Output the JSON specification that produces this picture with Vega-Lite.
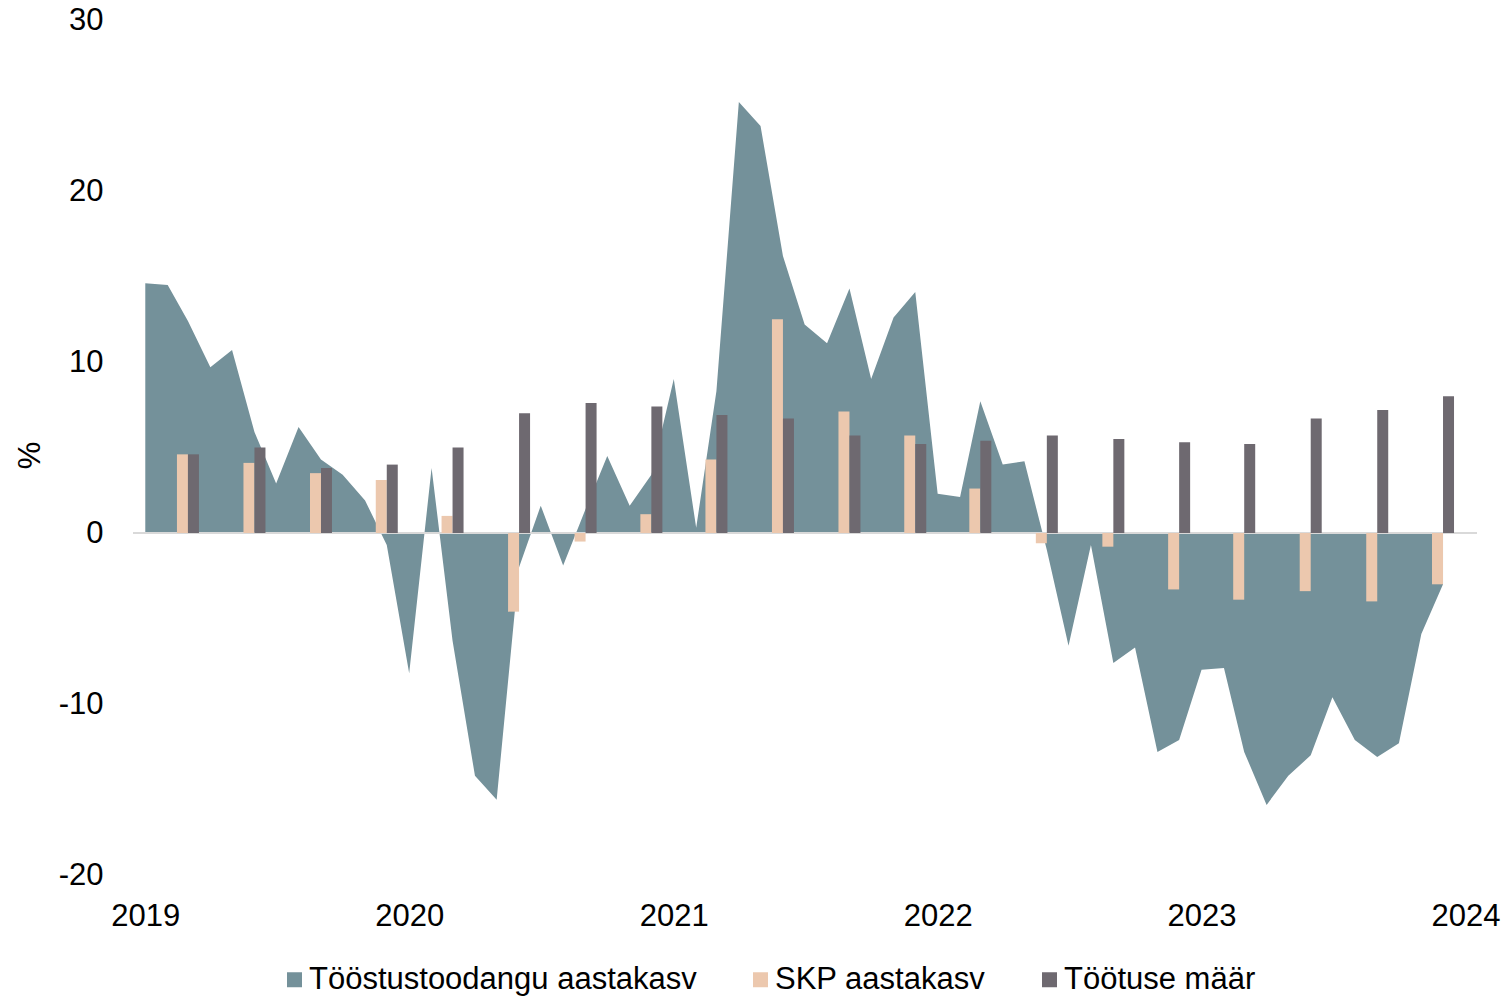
{
  "$schema": "https://vega.github.io/schema/vega-lite/v6.json",
  "autosize": {"type": "none"},
  "width": 1344,
  "height": 855,
  "padding": {"left": 133, "top": 20, "right": 27, "bottom": 122},
  "background": "white",
  "config": {
    "view": {"stroke": null},
    "font": "Liberation Sans",
    "axis": {"grid": false, "domain": false, "ticks": false, "labelFont": "Liberation Sans", "labelFontSize": 31, "labelColor": "#000000", "titleFont": "Liberation Sans", "titleFontSize": 31, "titleFontWeight": "normal", "titleColor": "#000000"}
  },
  "datasets": {
    "monthly": [
      {"date": "2019-01-01", "value": 14.6}, {"date": "2019-02-01", "value": 14.5}, {"date": "2019-03-01", "value": 12.4},
      {"date": "2019-04-01", "value": 9.7}, {"date": "2019-05-01", "value": 10.7}, {"date": "2019-06-01", "value": 5.9},
      {"date": "2019-07-01", "value": 2.9}, {"date": "2019-08-01", "value": 6.2}, {"date": "2019-09-01", "value": 4.3},
      {"date": "2019-10-01", "value": 3.4}, {"date": "2019-11-01", "value": 1.9}, {"date": "2019-12-01", "value": -0.7},
      {"date": "2020-01-01", "value": -8.2}, {"date": "2020-02-01", "value": 3.8}, {"date": "2020-03-01", "value": -6.3},
      {"date": "2020-04-01", "value": -14.2}, {"date": "2020-05-01", "value": -15.6}, {"date": "2020-06-01", "value": -2.0},
      {"date": "2020-07-01", "value": 1.6}, {"date": "2020-08-01", "value": -1.9}, {"date": "2020-09-01", "value": 1.4},
      {"date": "2020-10-01", "value": 4.5}, {"date": "2020-11-01", "value": 1.6}, {"date": "2020-12-01", "value": 3.4},
      {"date": "2021-01-01", "value": 9.0}, {"date": "2021-02-01", "value": 0.3}, {"date": "2021-03-01", "value": 8.3},
      {"date": "2021-04-01", "value": 25.2}, {"date": "2021-05-01", "value": 23.8}, {"date": "2021-06-01", "value": 16.2},
      {"date": "2021-07-01", "value": 12.2}, {"date": "2021-08-01", "value": 11.1}, {"date": "2021-09-01", "value": 14.3},
      {"date": "2021-10-01", "value": 9.0}, {"date": "2021-11-01", "value": 12.6}, {"date": "2021-12-01", "value": 14.1},
      {"date": "2022-01-01", "value": 2.3}, {"date": "2022-02-01", "value": 2.1}, {"date": "2022-03-01", "value": 7.7},
      {"date": "2022-04-01", "value": 4.0}, {"date": "2022-05-01", "value": 4.2}, {"date": "2022-06-01", "value": -1.0},
      {"date": "2022-07-01", "value": -6.6}, {"date": "2022-08-01", "value": -0.7}, {"date": "2022-09-01", "value": -7.6},
      {"date": "2022-10-01", "value": -6.7}, {"date": "2022-11-01", "value": -12.8}, {"date": "2022-12-01", "value": -12.1},
      {"date": "2023-01-01", "value": -8.0}, {"date": "2023-02-01", "value": -7.9}, {"date": "2023-03-01", "value": -12.8},
      {"date": "2023-04-01", "value": -15.9}, {"date": "2023-05-01", "value": -14.2}, {"date": "2023-06-01", "value": -13.0},
      {"date": "2023-07-01", "value": -9.6}, {"date": "2023-08-01", "value": -12.1}, {"date": "2023-09-01", "value": -13.1},
      {"date": "2023-10-01", "value": -12.3}, {"date": "2023-11-01", "value": -5.9}, {"date": "2023-12-01", "value": -3.0}
    ],
    "quarterly": [
      {"date": "2019-03-01", "gdp": 4.6, "unemp": 4.6}, {"date": "2019-06-01", "gdp": 4.1, "unemp": 5.0},
      {"date": "2019-09-01", "gdp": 3.5, "unemp": 3.8}, {"date": "2019-12-01", "gdp": 3.1, "unemp": 4.0},
      {"date": "2020-03-01", "gdp": 1.0, "unemp": 5.0}, {"date": "2020-06-01", "gdp": -4.6, "unemp": 7.0},
      {"date": "2020-09-01", "gdp": -0.5, "unemp": 7.6}, {"date": "2020-12-01", "gdp": 1.1, "unemp": 7.4},
      {"date": "2021-03-01", "gdp": 4.3, "unemp": 6.9}, {"date": "2021-06-01", "gdp": 12.5, "unemp": 6.7},
      {"date": "2021-09-01", "gdp": 7.1, "unemp": 5.7}, {"date": "2021-12-01", "gdp": 5.7, "unemp": 5.2},
      {"date": "2022-03-01", "gdp": 2.6, "unemp": 5.4}, {"date": "2022-06-01", "gdp": -0.6, "unemp": 5.7},
      {"date": "2022-09-01", "gdp": -0.8, "unemp": 5.5}, {"date": "2022-12-01", "gdp": -3.3, "unemp": 5.3},
      {"date": "2023-03-01", "gdp": -3.9, "unemp": 5.2}, {"date": "2023-06-01", "gdp": -3.4, "unemp": 6.7},
      {"date": "2023-09-01", "gdp": -4.0, "unemp": 7.2}, {"date": "2023-12-01", "gdp": -3.0, "unemp": 8.0}
    ]
  },
  "layer": [
    {
      "data": {"name": "monthly"},
      "mark": {"type": "area", "interpolate": "linear", "color": "#74919a"},
      "encoding": {
        "x": {
          "field": "date", "type": "temporal",
          "scale": {"type": "utc", "padding": 0, "domain": [{"year": 2018, "month": 12, "date": 15, "utc": true}, {"year": 2024, "month": 1, "date": 17, "utc": true}]},
          "axis": {
            "title": null, "format": "%Y", "labelPadding": 26, "labelFlush": false, "labelOverlap": false,
            "values": [{"year": 2019, "month": 1, "date": 1, "utc": true}, {"year": 2020, "month": 1, "date": 1, "utc": true}, {"year": 2021, "month": 1, "date": 1, "utc": true}, {"year": 2022, "month": 1, "date": 1, "utc": true}, {"year": 2023, "month": 1, "date": 1, "utc": true}, {"year": 2024, "month": 1, "date": 1, "utc": true}]
          }
        },
        "y": {
          "field": "value", "type": "quantitative", "stack": null,
          "scale": {"domain": [-20, 30], "nice": false, "zero": false},
          "axis": {"title": "%", "values": [-20, -10, 0, 10, 20, 30], "labelExpr": "datum.value + ''", "labelPadding": 30, "titleX": -103, "titleY": 435, "titleAlign": "center", "titleBaseline": "middle", "titleAngle": -90}
        },
        "color": {
          "datum": "Tööstustoodangu aastakasv",
          "scale": {"domain": ["Tööstustoodangu aastakasv", "SKP aastakasv", "Töötuse määr"], "range": ["#74919a", "#ecc8ae", "#6e6970"]},
          "legend": {
            "title": null, "orient": "none", "direction": "horizontal", "legendX": 146, "legendY": 944,
            "symbolType": "square", "symbolSize": 225, "symbolStrokeWidth": 0, "symbolOpacity": 1,
            "labelFont": "Liberation Sans", "labelFontSize": 31, "labelColor": "#000000", "labelLimit": 0,
            "labelOffset": -1, "columnPadding": 48
          }
        }
      }
    },
    {
      "data": {"values": [{}]},
      "mark": {"type": "rule", "color": "#d9d9d9", "strokeWidth": 2},
      "encoding": {"y": {"datum": 0, "type": "quantitative", "scale": {"domain": [-20, 30], "nice": false, "zero": false}}}
    },
    {
      "data": {"name": "quarterly"},
      "mark": {"type": "bar", "width": 11, "xOffset": -5.5, "color": "#ecc8ae"},
      "encoding": {
        "x": {"field": "date", "type": "temporal", "title": null, "scale": {"type": "utc", "padding": 0, "domain": [{"year": 2018, "month": 12, "date": 15, "utc": true}, {"year": 2024, "month": 1, "date": 17, "utc": true}]}},
        "y": {"field": "gdp", "type": "quantitative", "title": "%", "stack": null, "scale": {"domain": [-20, 30], "nice": false, "zero": false}},
        "color": {"datum": "SKP aastakasv"}
      }
    },
    {
      "data": {"name": "quarterly"},
      "mark": {"type": "bar", "width": 11, "xOffset": 5.5, "color": "#6e6970"},
      "encoding": {
        "x": {"field": "date", "type": "temporal", "title": null, "scale": {"type": "utc", "padding": 0, "domain": [{"year": 2018, "month": 12, "date": 15, "utc": true}, {"year": 2024, "month": 1, "date": 17, "utc": true}]}},
        "y": {"field": "unemp", "type": "quantitative", "title": "%", "stack": null, "scale": {"domain": [-20, 30], "nice": false, "zero": false}},
        "color": {"datum": "Töötuse määr"}
      }
    }
  ]
}
